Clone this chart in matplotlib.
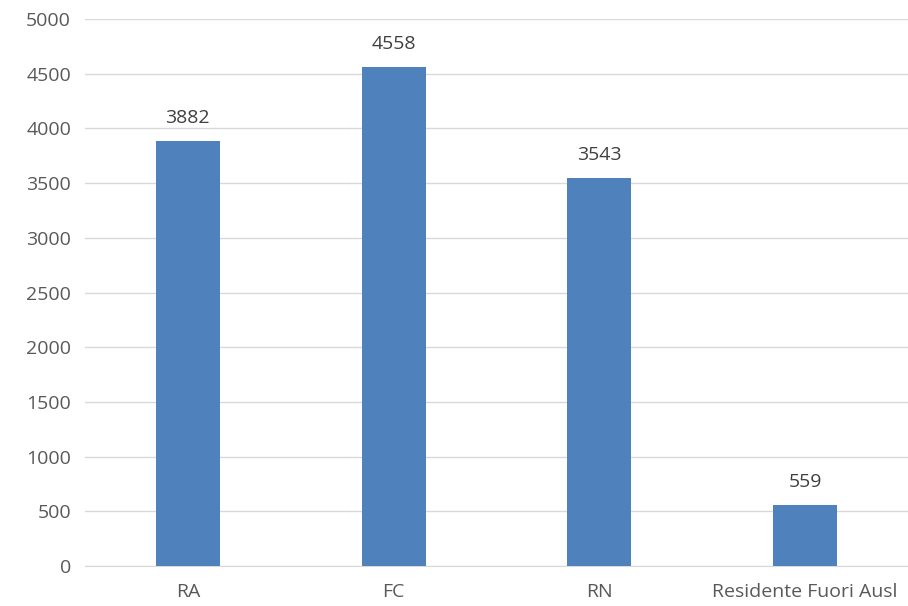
import matplotlib.pyplot as plt

categories = ["RA", "FC", "RN", "Residente Fuori Ausl"]
values = [3882, 4558, 3543, 559]
y_ticks = list(range(0, 5001, 500))

plt.rcParams['font.family'] = ['Open Sans', 'DejaVu Sans']

fig = plt.figure(figsize=(9.08, 6.06), dpi=100)
ax = fig.add_axes([0.0936, 0.066, 0.9064, 0.9026])

bars = ax.bar(range(len(categories)), values, width=0.31, color="#4F81BD", zorder=3)
for b, v in zip(bars, values):
    ax.text(b.get_x() + b.get_width() / 2, v + 130, str(v), ha="center", va="bottom",
            fontsize=14, color="#404040")

ax.set_xlim(-0.5, len(categories) - 0.5)
ax.set_ylim(0, 5000)
ax.set_yticks(y_ticks)
ax.set_xticks(range(len(categories)))
ax.set_xticklabels(categories)
ax.tick_params(axis="both", length=0, labelsize=14, labelcolor="#595959")
ax.tick_params(axis="y", pad=10)
ax.tick_params(axis="x", pad=12)
ax.grid(axis="y", color="#D9D9D9", linewidth=1, zorder=0)
for s in ["top", "right", "left"]:
    ax.spines[s].set_visible(False)
ax.spines["bottom"].set_color("#D9D9D9")

fig.savefig("out.png", dpi=100)
